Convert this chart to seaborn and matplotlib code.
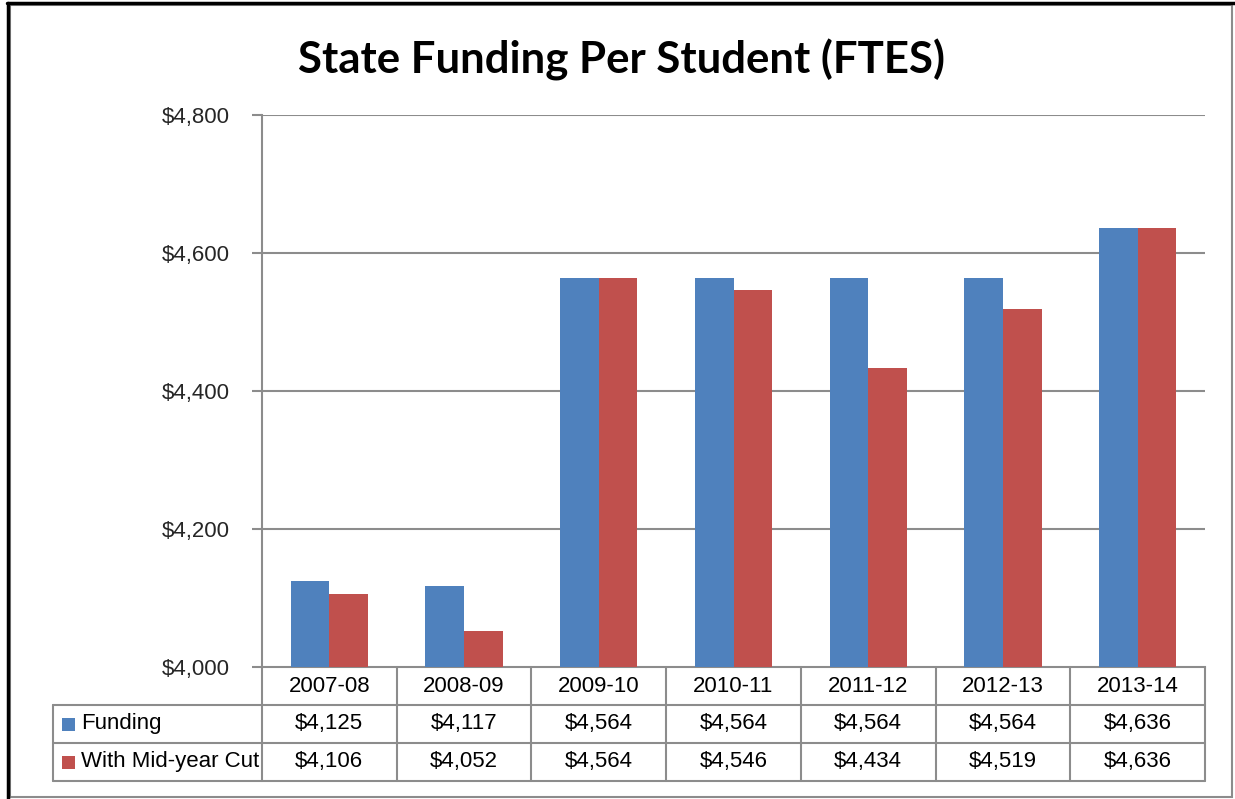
import matplotlib
matplotlib.use("Agg")
import matplotlib.pyplot as plt
import matplotlib.transforms as mtransforms
from matplotlib.patches import Rectangle
from matplotlib.lines import Line2D
import seaborn as sns
import pandas as pd

# ---- data ----
years = ["2007-08", "2008-09", "2009-10", "2010-11", "2011-12", "2012-13", "2013-14"]
funding = [4125, 4117, 4564, 4564, 4564, 4564, 4636]
with_cut = [4106, 4052, 4564, 4546, 4434, 4519, 4636]
series_names = ["Funding", "With Mid-year Cut"]
yticks = [4000, 4200, 4400, 4600, 4800]
title = "State Funding Per Student (FTES)"

colors = ["#4F81BD", "#C0504D"]
grid_c = "#8C8C8C"

sns.set_theme(style="white")
plt.rcParams["font.family"] = ["Liberation Sans", "DejaVu Sans"]

W, H = 1235, 799
fig = plt.figure(figsize=(W / 100, H / 100), dpi=100)
ax = fig.add_axes([262 / W, 1 - 667 / H, (1205 - 262) / W, (667 - 115) / H])

df = pd.DataFrame({
    "year": years * 2,
    "value": funding + with_cut,
    "series": [series_names[0]] * len(years) + [series_names[1]] * len(years),
})
sns.barplot(data=df, x="year", y="value", hue="series", palette=colors,
            width=0.574, dodge=True, saturation=1, legend=False, ax=ax,
            linewidth=0, zorder=3)

ax.set_ylim(yticks[0], yticks[-1])
ax.set_xlim(-0.5, len(years) - 0.5)
ax.set_yticks(yticks)
ax.set_yticklabels([f"${v:,}" for v in yticks], fontsize=16)
ax.set_xticks([])
ax.set_xlabel("")
ax.set_ylabel("")
ax.tick_params(axis="y", length=7, width=1.5, color=grid_c, pad=16, direction="out", left=True)
for v in yticks[1:]:
    ax.axhline(v, color=grid_c, lw=1.5, zorder=1)
for s in ["top", "right"]:
    ax.spines[s].set_visible(False)
for s in ["left", "bottom"]:
    ax.spines[s].set_color(grid_c)
    ax.spines[s].set_linewidth(1.5)

# ---- data table below axes ----
axh_px = 667 - 115
axw_px = 1205 - 262
rh = 38 / axh_px
xleft = (53 - 262) / axw_px
n = len(years)
lkw = dict(color=grid_c, lw=1.5, transform=ax.transAxes, clip_on=False, zorder=5)
ax.plot([0, 0], [0, -3 * rh], **lkw)
ax.plot([xleft, xleft], [-rh, -3 * rh], **lkw)
for k in range(1, n + 1):
    ax.plot([k / n, k / n], [0, -3 * rh], **lkw)
for r in (1, 2, 3):
    ax.plot([xleft, 1], [-r * rh, -r * rh], **lkw)

blend = mtransforms.blended_transform_factory(ax.transData, ax.transAxes)
for i, yr in enumerate(years):
    ax.text(i, -0.5 * rh, yr, transform=blend, ha="center", va="center", fontsize=16, color="black")
    ax.text(i, -1.5 * rh, f"${funding[i]:,}", transform=blend, ha="center", va="center", fontsize=16, color="black")
    ax.text(i, -2.5 * rh, f"${with_cut[i]:,}", transform=blend, ha="center", va="center", fontsize=16, color="black")

sq_w = 13 / axw_px
sq_h = 13 / axh_px
for r, (name, c) in enumerate(zip(series_names, colors)):
    yc = -(r + 1.5) * rh
    ax.add_patch(Rectangle(((62 - 262) / axw_px, yc - sq_h / 2), sq_w, sq_h,
                           transform=ax.transAxes, clip_on=False, facecolor=c, edgecolor="none"))
    ax.text((81 - 262) / axw_px, yc, name, transform=ax.transAxes, ha="left", va="center",
            fontsize=16, color="black")

# ---- title ----
fig.text(0.503, 1 - 60 / H, title, ha="center", va="center", fontsize=31.5,
         fontweight="bold", family=["Lato", "DejaVu Sans"], color="black")

# ---- outer frame ----
fig.add_artist(Rectangle((10 / W, 1 - 797 / H), (1232 - 10) / W, (797 - 5) / H,
                         transform=fig.transFigure, fill=False, edgecolor="#8C8C8C", lw=1.5))
fig.add_artist(Line2D([7 / W, 1], [1 - 3 / H, 1 - 3 / H], transform=fig.transFigure, color="black", lw=2.5))
fig.add_artist(Line2D([8 / W, 8 / W], [0, 1 - 3 / H], transform=fig.transFigure, color="black", lw=2.5))

fig.savefig("out.png", dpi=100, facecolor="white")
